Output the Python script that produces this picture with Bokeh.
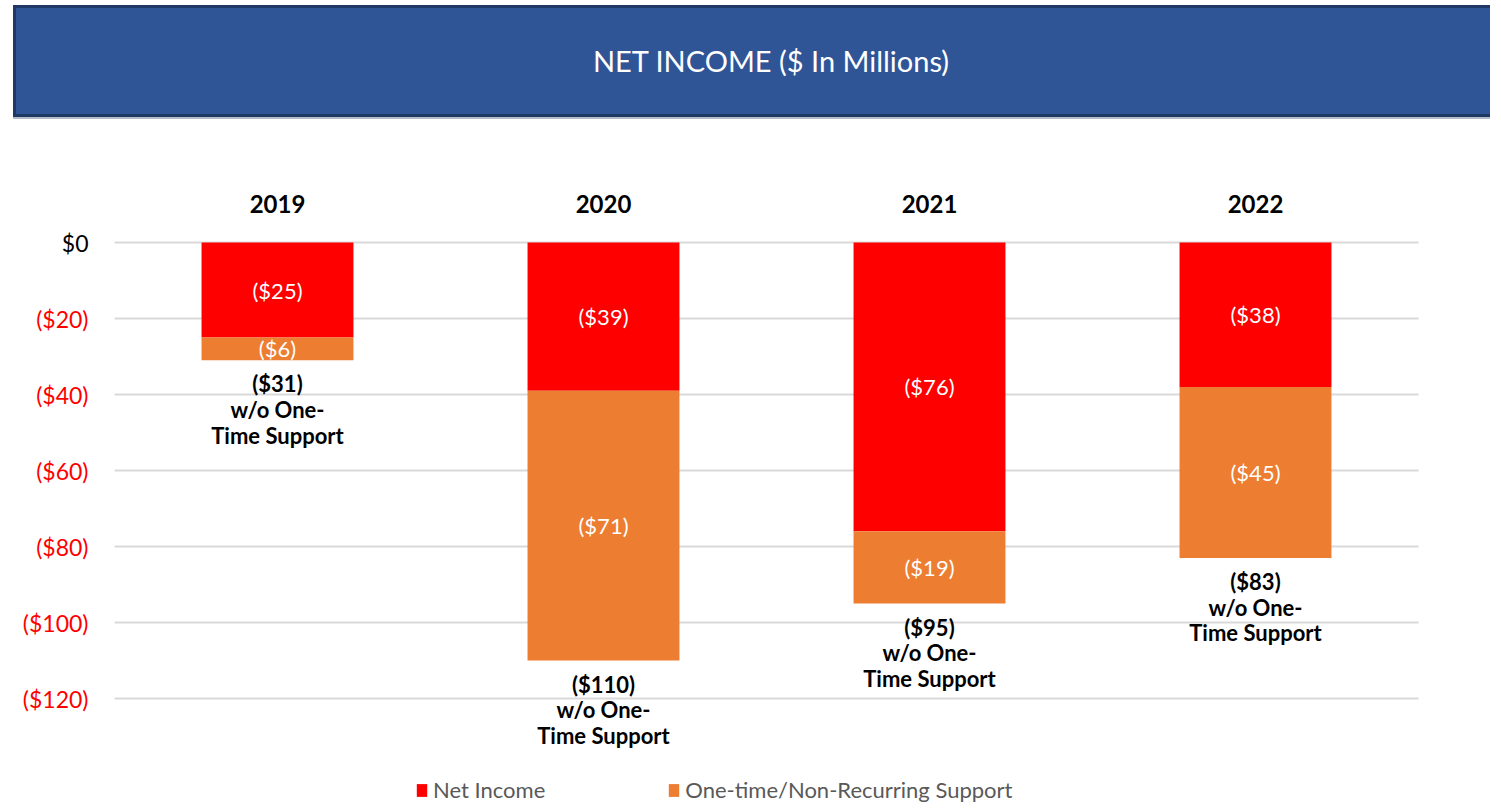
from bokeh.plotting import figure
from bokeh.models import Range1d, ColumnDataSource, Div, Legend, LegendItem
from bokeh.layouts import column
from bokeh.core.properties import value
from bokeh.embed import file_html
from bokeh.resources import INLINE

# ---- data ----
years = ["2019", "2020", "2021", "2022"]
net_income = [-25, -39, -76, -38]
one_time = [-6, -71, -19, -45]
net_labels = ["($25)", "($39)", "($76)", "($38)"]
one_time_labels = ["($6)", "($71)", "($19)", "($45)"]
total_labels = ["($31)", "($110)", "($95)", "($83)"]
total_suffix = "w/o One-\nTime Support"
y_ticks = [0, -20, -40, -60, -80, -100, -120]
y_tick_labels = ["$0", "($20)", "($40)", "($60)", "($80)", "($100)", "($120)"]
y_tick_colors = ["black", "#FF0000", "#FF0000", "#FF0000", "#FF0000", "#FF0000", "#FF0000"]
series_names = ["Net Income", "One-time/Non-Recurring Support"]
title_text = "NET INCOME ($ In Millions)"

RED = "#FF0000"
ORANGE = "#ED7D31"
FONT = "Lato"

n = len(years)
xpos = [i + 0.5 for i in range(n)]          # category centres on a numeric axis
totals = [a + b for a, b in zip(net_income, one_time)]
source = ColumnDataSource(dict(
    x=xpos,
    years=years,
    net_income=net_income,
    one_time=one_time,
    zero=[0] * n,
    net_mid=[a / 2 for a in net_income],
    one_mid=[a + b / 2 for a, b in zip(net_income, one_time)],
    total=totals,
    net_lab=net_labels,
    one_lab=one_time_labels,
    tot_lab=[t + "\n" + total_suffix for t in total_labels],
))
ticks_src = ColumnDataSource(dict(
    y=y_ticks, lab=y_tick_labels, col=y_tick_colors,
    x0=[0] * len(y_ticks), x1=[n] * len(y_ticks),
))

# ---- banner ----
banner = Div(
    text=(
        f'<div style="margin-left:8px;width:1477px;height:112px;box-sizing:border-box;'
        f'background:#2F5597;border:3px solid #1F3864;border-right:none;'
        f'box-shadow:0 2px 0 #B4BCC8;'
        f'display:flex;align-items:center;justify-content:center;padding-left:36px;'
        f'color:white;font-family:{FONT};font-size:29px;">{title_text}</div>'
    ),
    width=1485, height=112,
)

# ---- chart (one frame covering the canvas) ----
W, H = 1485, 681
PX_PER_CAT = 326.0
PX_PER_UNIT = 3.8
LEFT_PX = 114.0     # canvas px from left edge to x=0
TOP_PX = 120.0      # canvas px from top edge to y=0

p = figure(
    x_range=Range1d(-LEFT_PX / PX_PER_CAT, (W - LEFT_PX) / PX_PER_CAT),
    y_range=Range1d(-(H - TOP_PX) / PX_PER_UNIT, TOP_PX / PX_PER_UNIT),
    width=W, height=H,
    output_backend="svg", toolbar_location=None,
    min_border=0,
)
p.axis.visible = False
p.grid.grid_line_color = None
p.outline_line_color = None

# gridlines
p.segment(x0="x0", x1="x1", y0="y", y1="y", source=ticks_src,
          line_color="#D9D9D9", line_width=2)
# y tick labels
p.text(x="x0", y="y", text="lab", source=ticks_src, text_color="col",
       text_font=value(FONT), text_font_size="23px",
       text_align="right", text_baseline="middle", x_offset=-26)

renderers = p.vbar_stack(
    ["net_income", "one_time"], x="x", width=0.466,
    color=[RED, ORANGE], line_color=None, source=source,
)

# year labels above the zero line
p.text(x="x", y="zero", text="years", source=source,
       text_color="black", text_font=value(FONT), text_font_size="24px",
       text_font_style="bold", text_align="center", text_baseline="middle",
       y_offset=-39)

p.text(x="x", y="net_mid", text="net_lab", source=source,
       text_color="white", text_font=value(FONT), text_font_size="22px",
       text_align="center", text_baseline="middle")
p.text(x="x", y="one_mid", text="one_lab", source=source,
       text_color="white", text_font=value(FONT), text_font_size="22px",
       text_align="center", text_baseline="middle")
p.text(x="x", y="total", text="tot_lab", source=source,
       text_color="black", text_font=value(FONT), text_font_size="22px",
       text_font_style="bold", text_align="center", text_baseline="top",
       text_line_height=0.95, y_offset=10)

legend = Legend(
    items=[LegendItem(label=nm, renderers=[r]) for nm, r in zip(series_names, renderers)],
    orientation="horizontal", location=(415, 0),
    glyph_width=13, glyph_height=16, label_standoff=5, spacing=122,
    padding=0, margin=0, border_line_color=None, background_fill_alpha=0,
    label_text_font=FONT, label_text_font_size="22px", label_text_color="#595959",
)
p.add_layout(legend)

layout = column(banner, p, spacing=0)
open("out.html", "w").write(file_html(layout, INLINE))
